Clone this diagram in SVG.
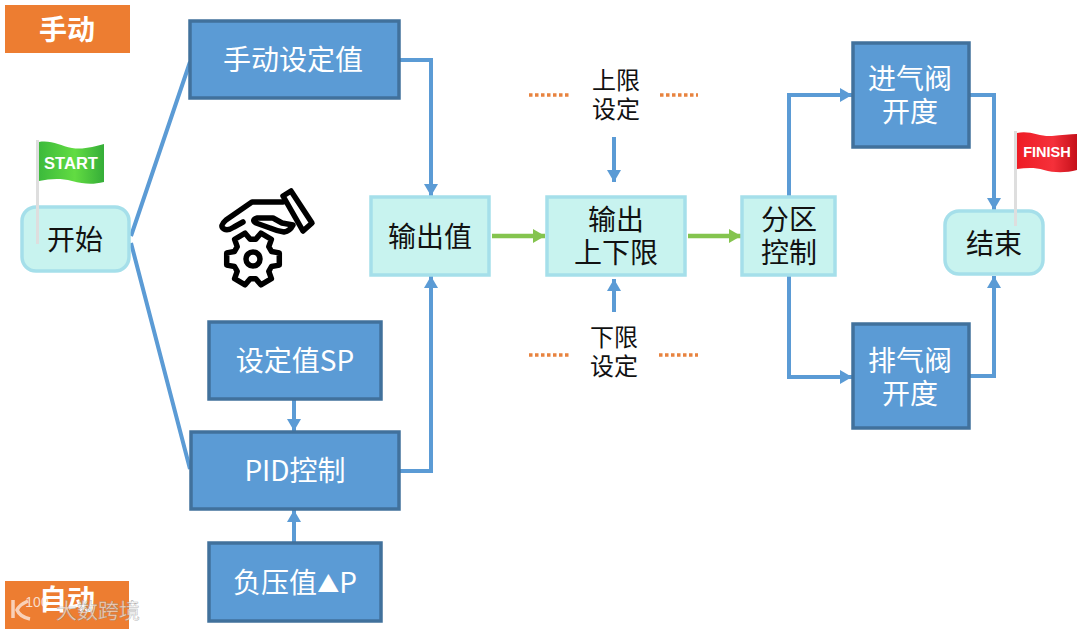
<svg xmlns="http://www.w3.org/2000/svg" width="1080" height="629" viewBox="0 0 1080 629">
<style>
text{font-family:"Noto Sans CJK SC","Liberation Sans",sans-serif;text-anchor:middle}
.b rect{fill:#5b9bd5;stroke:#41719c;stroke-width:3.5}
.b text{fill:#fff;font-size:28px}
.c rect{fill:#c8f3ef;stroke:#a5dfea;stroke-width:3.5}
.c text{fill:#111;font-size:28px}
.o rect{fill:#ed7d31}
.o text{fill:#fff;font-size:28px;font-weight:700}
.l text{fill:#111;font-size:24px}
.w{fill:none;stroke:#5b9bd5;stroke-width:4}
.g{fill:none;stroke:#84c44e;stroke-width:4.5}
.d{fill:none;stroke:#e8833f;stroke-width:3.5;stroke-dasharray:3.5 2.5}
.i{fill:none;stroke:#000;stroke-width:5.5;stroke-linecap:round;stroke-linejoin:round}
.f{font-family:"Liberation Sans",sans-serif;font-weight:700;fill:#fff}
</style>
<defs>
<marker id="ab" markerUnits="userSpaceOnUse" markerWidth="14" markerHeight="14" refX="12" refY="7" orient="auto"><path d="M0 0L12 7L0 14z" fill="#5b9bd5"/></marker>
<marker id="ag" markerUnits="userSpaceOnUse" markerWidth="14" markerHeight="14" refX="12" refY="7" orient="auto"><path d="M0 0L12 7L0 14z" fill="#84c44e"/></marker>
<linearGradient id="fg" x1="0" x2="1" y1="0" y2="0"><stop offset="0" stop-color="#3cba3c"/><stop offset=".55" stop-color="#62dc42"/><stop offset="1" stop-color="#35ad38"/></linearGradient>
<linearGradient id="fr" x1="0" x2="1" y1="0" y2="0"><stop offset="0" stop-color="#ee1c25"/><stop offset=".6" stop-color="#f5303a"/><stop offset="1" stop-color="#c5101a"/></linearGradient>
</defs>
<g id="connectors">
<path class="w" d="M131 236L190 62M131 243L190 469"/>
<path class="w" marker-end="url(#ab)" d="M400 60H431V196"/>
<path class="w" marker-end="url(#ab)" d="M400 471H431V276"/>
<path class="w" marker-end="url(#ab)" d="M294 400V431"/>
<path class="w" marker-end="url(#ab)" d="M294 542V510"/>
<path class="g" marker-end="url(#ag)" d="M492 236H545"/>
<path class="g" marker-end="url(#ag)" d="M688 236H741"/>
<path class="w" marker-end="url(#ab)" d="M614 137V182"/>
<path class="w" marker-end="url(#ab)" d="M614 312V279"/>
<path class="w" marker-end="url(#ab)" d="M789 196V95H852"/>
<path class="w" marker-end="url(#ab)" d="M789 276V377H852"/>
<path class="w" marker-end="url(#ab)" d="M970 95H994V210"/>
<path class="w" marker-end="url(#ab)" d="M970 376H994V276"/>
<path class="d" d="M529 95H571M660 95H698M529 355H571M659 355H698"/>
</g>
<g id="label-manual" class="o"><rect x="5" y="5" width="125" height="48"/><text x="67" y="40">手动</text></g>
<g id="label-auto" class="o"><rect x="5" y="581" width="124" height="48"/><text x="67" y="610">自动</text></g>
<g id="start" class="c"><rect x="22" y="207" width="107" height="64" rx="14"/><text x="75" y="250">开始</text></g>
<g id="start-flag"><path d="M36 140H39V244H36z" fill="#dedede"/><path d="M39 142C52 140 60 146 72 148C84 150 95 146 104 144V182C92 185 84 184 72 181C60 178 50 179 39 181z" fill="url(#fg)"/><text class="f" x="71" y="169" font-size="16.5">START</text></g>
<g id="manual-set" class="b"><rect x="190" y="21" width="209" height="77"/><text x="293" y="70">手动设定值</text></g>
<g id="sp" class="b"><rect x="209" y="322" width="172" height="77"/><text x="295" y="371">设定值SP</text></g>
<g id="pid" class="b"><rect x="191" y="432" width="208" height="77"/><text x="295" y="481">PID控制</text></g>
<g id="dp" class="b"><rect x="209" y="543" width="172" height="78"/><text x="295" y="593">负压值<tspan font-size="22" dy="-1">▲</tspan><tspan dy="1">P</tspan></text></g>
<g id="hand-gear-icon">
<path class="i" d="M283 202H252L226 220Q219 226 224 229Q228 231 234 227L243 222"/>
<path class="i" d="M257 218H273L282 223L293 225Q290 231 284 232Q277 231 270 228L256 223Q251 220 257 218"/>
<path class="i" d="M283 196L291 191L312 223L303 231z"/>
<path class="i" d="M271.500 251.500L279.300 252.900L279.300 265.100L271.500 266.500L268.800 271.300L271.400 278.700L260.900 284.800L255.800 278.800L250.200 278.800L245.100 284.800L234.600 278.700L237.200 271.300L234.500 266.500L226.700 265.100L226.700 252.900L234.500 251.500L237.200 246.700L234.600 239.300L245.100 233.200L250.200 239.200L255.800 239.200L260.900 233.200L271.400 239.300L268.800 246.700Z"/>
<circle class="i" cx="253" cy="259" r="7"/>
</g>
<g id="output" class="c"><rect x="371" y="197" width="118" height="78"/><text x="430" y="247">输出值</text></g>
<g id="limits" class="c"><rect x="547" y="197" width="138" height="78"/><text x="616" y="230">输出<tspan x="616" dy="33">上下限</tspan></text></g>
<g id="zone" class="c"><rect x="742" y="197" width="93" height="78"/><text x="789" y="230">分区<tspan x="789" dy="33">控制</tspan></text></g>
<g id="inlet" class="b"><rect x="853" y="43" width="116" height="104"/><text x="910" y="89">进气阀<tspan x="910" dy="33">开度</tspan></text></g>
<g id="exhaust" class="b"><rect x="853" y="324" width="116" height="104"/><text x="910" y="371">排气阀<tspan x="910" dy="33">开度</tspan></text></g>
<g id="end" class="c"><rect x="945" y="211" width="98" height="63" rx="14"/><text x="994" y="254">结束</text></g>
<g id="finish-flag"><path d="M1014 131H1017V226H1014z" fill="#dedede"/><path d="M1017 133C1030 130 1040 137 1052 136C1062 135 1070 134 1077 134V170C1066 173 1054 173 1044 170C1034 167 1026 168 1017 169z" fill="url(#fr)"/><text class="f" x="1047" y="157" font-size="14.500">FINISH</text></g>
<g id="upper" class="l"><text x="616" y="89">上限<tspan x="616" dy="29">设定</tspan></text></g>
<g id="lower" class="l"><text x="614" y="346">下限<tspan x="614" dy="29">设定</tspan></text></g>
<g id="watermark"><path d="M13 600V618M28 601Q19 605 17 610Q20 617 30 619" fill="none" stroke="#fff" stroke-opacity=".65" stroke-width="3.500"/><text x="37" y="607" font-size="14" fill="#fff" fill-opacity=".75" style="font-family:'Liberation Sans',sans-serif">100</text><text x="98" y="618" font-size="21" fill="#fff" fill-opacity=".65" stroke="#888" stroke-opacity=".65" stroke-width=".5">大数跨境</text></g>
</svg>
